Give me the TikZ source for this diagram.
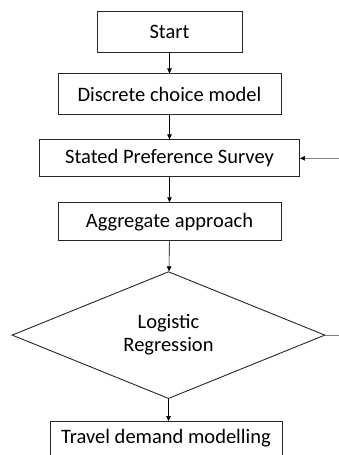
\documentclass[tikz,border=0pt]{standalone}
\usepackage{fontspec}
\setmainfont{Carlito}
\usepackage{tikz}
\usetikzlibrary{
  arrows.meta, positioning, shapes.geometric
}

\begin{document}
\begin{tikzpicture}[x=1pt, y=-1pt,
    box/.style={draw=black!85, line width=0.9pt, inner sep=0pt,
                font=\fontsize{20.5}{23}\selectfont, align=center},
    flow/.style={-{Triangle[length=5pt, width=4.5pt, color=black]}, line width=0.6pt}]
    \clip (0,0) rectangle (339,455);
    \node[box, minimum width=145, minimum height=41] (start) at (169.5,31.5) {Start};
    \node[box, minimum width=223, minimum height=41, below=21pt of start] (dcm) {Discrete choice model};
    \node[box, minimum width=260, minimum height=37, below=24pt of dcm] (survey) {Stated Preference Survey};
    \node[box, minimum width=223, minimum height=38, below=25pt of survey] (aggr) {Aggregate approach};
    \node[box, shape=diamond, aspect=2.465, minimum width=313, minimum height=127,
          below=30pt of aggr, xshift=-1pt] (logit) {Logistic\\Regression};
    \node[box, minimum width=232, minimum height=42, text height=13pt, text depth=11pt,
          below=22pt of logit, xshift=-2.5pt] (travel) {Travel demand modelling};
    \path (survey.east) ++(40,0) coordinate (fback);
    \path (logit.east) ++(14,0) coordinate (fout);
    \draw[flow] (start) -- (dcm);
    \draw[flow] (dcm) -- (survey);
    \draw[flow] (survey) -- (aggr);
    \draw[flow] (aggr) -- (logit);
    \draw[flow] (logit) -- (travel.north -| logit.south);
    \draw[flow, gray] (fback) -- (survey.east);
    \draw[gray, line width=0.6pt] (logit.east) -- (fout);
  \end{tikzpicture}
\end{document}
